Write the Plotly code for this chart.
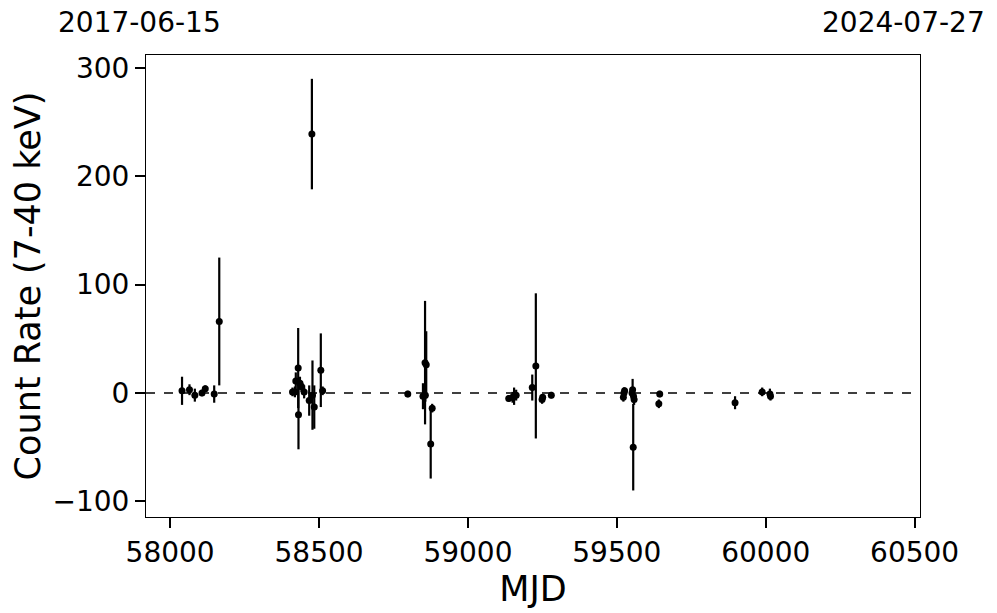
import plotly.graph_objects as go

mjd = [58040, 58065, 58083, 58107, 58118, 58148, 58165,
       58411, 58419, 58422, 58430, 58431, 58436, 58441, 58450, 58467, 58476, 58478, 58484, 58506, 58512,
       58798, 58849, 58856, 58857, 58860, 58875, 58880,
       59137, 59150, 59155, 59162, 59216, 59228, 59249, 59251, 59280,
       59522, 59524, 59526, 59551, 59553, 59555, 59556, 59558, 59641, 59644,
       59897, 59988, 60014, 60016]
rate = [2, 3, -2, 0, 4, -1, 66,
        1, 1, 11, 23, -20, 9, 6, 1, -7, 239, -2, -13, 21, 2,
        -1, -3, 28, -2, 26, -47, -14,
        -5, -4, -3, -2, 5, 25, -6, -4, -2,
        -4, 0, 2, 0, 3, -50, -3, -6, -10, -1,
        -9, 1, -1, -3]
err = [13, 5, 6, 3, 3, 8, 59,
       4, 5, 8, 37, 32, 6, 5, 6, 14, 51, 32, 20, 34, 4,
       3, 12, 57, 6, 31, 32, 4,
       3, 5, 8, 5, 12, 67, 4, 3, 3,
       4, 5, 3, 4, 10, 40, 6, 5, 4, 3,
       6, 4, 5, 4]

x_range = [57919, 60518]
y_range = [-114.5, 312]
x_ticks = [58000, 58500, 59000, 59500, 60000, 60500]
x_tick_text = ["58000", "58500", "59000", "59500", "60000", "60500"]
y_ticks = [-100, 0, 100, 200, 300]
y_tick_text = ["\u2212100", "0", "100", "200", "300"]
start_date = "2017-06-15"
end_date = "2024-07-27"

FONT = "DejaVu Sans"

fig = go.Figure()
fig.add_trace(go.Scatter(
    x=mjd, y=rate, mode="markers",
    marker=dict(color="black", size=7),
    error_y=dict(type="data", array=err, visible=True, color="black", thickness=2.2, width=0),
    showlegend=False,
))

fig.add_shape(type="line", xref="paper", yref="y", x0=0, x1=1, y0=0, y1=0,
              line=dict(color="black", width=1.5, dash="dash"), layer="below")

fig.update_layout(
    width=989, height=605,
    margin=dict(l=138, r=77, t=47, b=96),
    plot_bgcolor="white", paper_bgcolor="white",
    font=dict(family=FONT, color="black", size=28),
    xaxis=dict(range=x_range, tickvals=x_ticks, ticktext=x_tick_text, ticks="outside",
               ticklen=10, tickwidth=2, automargin=False,
               tickcolor="black", showline=True, linecolor="black", linewidth=1, mirror=True,
               showgrid=False, zeroline=False, tickfont=dict(size=28),
               title=dict(text="MJD", font=dict(size=35), standoff=1)),
    yaxis=dict(range=y_range, tickvals=y_ticks, ticktext=y_tick_text, ticks="outside", ticklen=10,
               tickwidth=2, tickcolor="black", showline=True, linecolor="black", linewidth=1,
               mirror=True, showgrid=False, zeroline=False, tickfont=dict(size=28), automargin=False,
               title=dict(text="Count Rate (7-40 keV)", font=dict(size=35), standoff=2)),
    annotations=[
        dict(text=start_date, xref="paper", yref="paper", x=-0.116, y=1.071,
             xanchor="left", yanchor="middle", showarrow=False, font=dict(size=28)),
        dict(text=end_date, xref="paper", yref="paper", x=1.0866, y=1.071,
             xanchor="right", yanchor="middle", showarrow=False, font=dict(size=28)),
    ],
)

fig.write_html("out.html")
